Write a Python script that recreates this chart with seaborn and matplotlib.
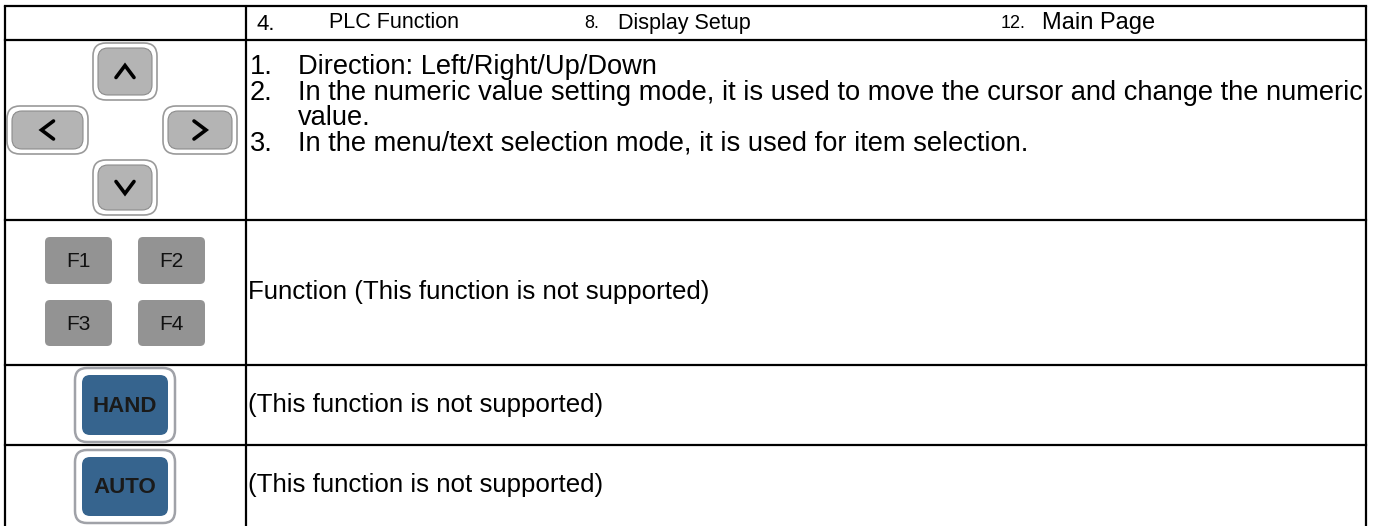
import matplotlib
matplotlib.use("Agg")
import matplotlib.pyplot as plt
from matplotlib.patches import FancyBboxPatch
import seaborn as sns

# table content
header_nums = ["4.", "8.", "12."]
header_items = ["PLC Function", "Display Setup", "Main Page"]
dir_nums = ["1.", "2.", "", "3."]
dir_lines = [
    "Direction: Left/Right/Up/Down",
    "In the numeric value setting mode, it is used to move the cursor and change the numeric",
    "value.",
    "In the menu/text selection mode, it is used for item selection.",
]
f_keys = ["F1", "F2", "F3", "F4"]
mode_keys = ["HAND", "AUTO"]
row_texts = [
    "Function (This function is not supported)",
    "(This function is not supported)",
    "(This function is not supported)",
]

sns.set_theme(style="white")
plt.rcParams["font.family"] = ["Liberation Sans", "DejaVu Sans"]

fig = plt.figure(figsize=(13.81, 5.26), dpi=100)
ax = fig.add_axes([0, 0, 1, 1])
ax.set_xlim(0, 1381)
ax.set_ylim(526, 0)
ax.axis("off")

# grid lines
row_y = [6, 40, 220, 365, 445]
x_left, x_mid, x_right = 5, 246, 1366
for y in row_y:
    ax.plot([x_left, x_right], [y, y], color="black", lw=1.6, solid_capstyle="projecting")
for x in (x_left, x_mid, x_right):
    ax.plot([x, x], [row_y[0], 530], color="black", lw=1.6, clip_on=False)

# body font size: the long line runs right up to the table border
renderer = fig.canvas.get_renderer()
probe = ax.text(298, 0, dir_lines[1], fontsize=16)
w = probe.get_window_extent(renderer).width
probe.remove()
body = 16 * (x_right - 1 - 298) / w

# header row
num_x = [257, 584, 1001]
item_x = [329, 618, 1042]
num_size = [16, 13, 13]
item_size = [15.5, 15.5, 17]
for i in range(len(header_items)):
    ax.text(num_x[i], 24, header_nums[i], fontsize=num_size[i], va="center", color="black")
    ax.text(item_x[i], 23, header_items[i], fontsize=item_size[i], va="center", color="black")

# direction text
line_y = [67, 93, 118, 144]
for i in range(len(dir_lines)):
    ax.text(250, line_y[i], dir_nums[i], fontsize=body, va="center", color="black")
    ax.text(298, line_y[i], dir_lines[i], fontsize=body, va="center", color="black")

# other rows
text_y = [292, 405, 485]
for i in range(len(row_texts)):
    ax.text(248, text_y[i], row_texts[i], fontsize=body * 0.95, va="center", color="black")


def rbox(x0, y0, x1, y1, r, fc, ec, lw):
    ax.add_patch(FancyBboxPatch((x0, y0), x1 - x0, y1 - y0,
                                boxstyle=f"round,pad=0,rounding_size={r}",
                                fc=fc, ec=ec, lw=lw))


def dpad(x0, y0, x1, y1, d):
    rbox(x0, y0, x1, y1, 13, "white", "#9a9a9a", 1.2)
    rbox(x0 + 5, y0 + 5, x1 - 5, y1 - 5, 10, "#b4b4b4", "#8c8c8c", 0.8)
    cx, cy = (x0 + x1) / 2, (y0 + y1) / 2
    s, t = 9, 6
    if d == "up":
        pts = [(cx - s, cy + t), (cx, cy - t), (cx + s, cy + t)]
    elif d == "down":
        pts = [(cx - s, cy - t), (cx, cy + t), (cx + s, cy - t)]
    elif d == "left":
        pts = [(cx + t, cy - s), (cx - t, cy), (cx + t, cy + s)]
    else:
        pts = [(cx - t, cy - s), (cx + t, cy), (cx - t, cy + s)]
    ax.plot([p[0] for p in pts], [p[1] for p in pts], color="black", lw=2.6,
            solid_joinstyle="miter")


dpad(93, 43, 157, 100, "up")
dpad(7, 106, 88, 154, "left")
dpad(163, 106, 237, 154, "right")
dpad(93, 160, 157, 215, "down")

# F keys
f_box = [(45, 237, 112, 284), (138, 237, 205, 284), (45, 300, 112, 346), (138, 300, 205, 346)]
for key, (x0, y0, x1, y1) in zip(f_keys, f_box):
    rbox(x0, y0, x1, y1, 5, "#939393", "none", 0)
    ax.text((x0 + x1) / 2, (y0 + y1) / 2 + 1, key, fontsize=15, ha="center", va="center",
            color="#111111")

# HAND / AUTO keys
mode_box = [(75, 368, 175, 442), (75, 450, 175, 523)]
for key, (x0, y0, x1, y1) in zip(mode_keys, mode_box):
    rbox(x0, y0, x1, y1, 12, "white", "#a0a2a8", 1.8)
    rbox(x0 + 7, y0 + 7, x1 - 7, y1 - 7, 8, "#36648e", "none", 0)
    ax.text((x0 + x1) / 2, (y0 + y1) / 2 + 1, key, fontsize=16, fontweight="bold",
            ha="center", va="center", color="#1a1a1a")

fig.savefig("out.png", dpi=100)
